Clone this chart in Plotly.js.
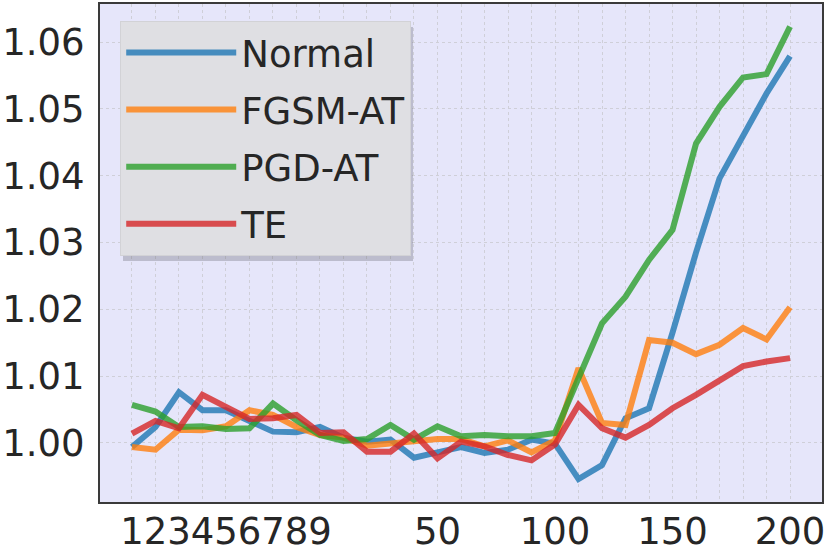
<!DOCTYPE html>
<html>
<head>
<meta charset="utf-8">
<script src="https://cdn.plot.ly/plotly-3.0.1.min.js"></script>
<style>
  html, body { margin: 0; padding: 0; background: #fff; }
  #chart { width: 830px; height: 554px; }
</style>
</head>
<body>
<div id="chart"></div>
<script>
// x categories: 1..9, then 10..200 in steps of 10
var epochs = ['1','2','3','4','5','6','7','8','9',
  '10','20','30','40','50','60','70','80','90','100',
  '110','120','130','140','150','160','170','180','190','200'];
var shownTicks = ['1','2','3','4','5','6','7','8','9','50','100','150','200'];
var yTicks = [1.00, 1.01, 1.02, 1.03, 1.04, 1.05, 1.06];

var normal = [0.9994, 1.0024, 1.0076, 1.0049, 1.0049, 1.0034, 1.0017, 1.0016, 1.0024, 1.0008,
  1.0002, 1.0005, 0.9978, 0.9986, 0.9994, 0.9985, 0.9990, 1.0005, 0.9999, 0.9946,
  0.9967, 1.0037, 1.0052, 1.0165, 1.0285, 1.0396, 1.0458, 1.0523, 1.0579];
var fgsmAT = [0.9994, 0.9990, 1.0020, 1.0019, 1.0025, 1.0049, 1.0042, 1.0024, 1.0012, 1.0008,
  0.9996, 1.0000, 1.0004, 1.0006, 1.0006, 0.9995, 1.0004, 0.9986, 1.0004, 1.0112,
  1.0030, 1.0027, 1.0154, 1.0150, 1.0133, 1.0147, 1.0172, 1.0155, 1.0203];
var pgdAT = [1.0057, 1.0047, 1.0024, 1.0025, 1.0021, 1.0022, 1.0059, 1.0034, 1.0012, 1.0003,
  1.0006, 1.0027, 1.0005, 1.0025, 1.0010, 1.0012, 1.0010, 1.0010, 1.0015, 1.0097,
  1.0179, 1.0219, 1.0274, 1.0319, 1.0448, 1.0503, 1.0547, 1.0552, 1.0623];
var te = [1.0014, 1.0033, 1.0022, 1.0072, 1.0054, 1.0036, 1.0037, 1.0042, 1.0015, 1.0016,
  0.9987, 0.9987, 1.0014, 0.9977, 1.0002, 0.9995, 0.9982, 0.9974, 0.9998, 1.0057,
  1.0022, 1.0008, 1.0027, 1.0052, 1.0072, 1.0094, 1.0115, 1.0122, 1.0127];

var names = ['Normal', 'FGSM-AT', 'PGD-AT', 'TE'];
var series = [normal, fgsmAT, pgdAT, te];
var colors = ['#1f77b4', '#ff7f0e', '#2ca02c', '#d62728'];

var traces = series.map(function(s, i) {
  return {
    x: epochs,
    y: s,
    name: names[i],
    legendgroup: 'g' + i,
    type: 'scatter',
    mode: 'lines',
    opacity: 0.8,
    line: {color: colors[i], width: 6}
  };
});

var tickFont = {family: 'DejaVu Sans', size: 37, color: '#262626'};

var layout = {
  width: 830,
  height: 554,
  margin: {l: 100, r: 8, t: 4, b: 52},
  paper_bgcolor: '#ffffff',
  plot_bgcolor: '#e6e6fa',
  font: tickFont,
  showlegend: true,
  legend: {
    x: 0.028, y: 0.966, xanchor: 'left', yanchor: 'top',
    bgcolor: 'rgb(223,223,227)',
    bordercolor: '#d2d2d6', borderwidth: 1,
    font: {family: 'DejaVu Sans', size: 37, color: '#262626'},
    itemwidth: 110,
    traceorder: 'grouped',
    tracegroupgap: 6
  },
  // thin drop shadow under the legend box
  shapes: [{
    type: 'rect', xref: 'paper', yref: 'paper', layer: 'above',
    x0: 0.0319, x1: 0.4335, y0: 0.4839, y1: 0.9538,
    fillcolor: 'rgba(110,110,120,0.35)', line: {width: 0}
  }],
  xaxis: {
    type: 'category',
    range: [-1.36, 29.36],
    tickvals: epochs,
    ticktext: epochs.map(function(e) { return shownTicks.indexOf(e) >= 0 ? e : ''; }),
    tickangle: 0,
    showgrid: true, gridcolor: '#cfcfd8', griddash: 'dot', gridwidth: 1,
    ticks: '', ticklabelstandoff: -4,
    showline: true, linecolor: '#3a3a3a', linewidth: 2, mirror: true,
    zeroline: false, tickfont: tickFont
  },
  yaxis: {
    range: [0.99117, 1.06569],
    tickvals: yTicks,
    ticktext: yTicks.map(function(v) { return v.toFixed(2); }),
    showgrid: true, gridcolor: '#cfcfd8', griddash: 'dot', gridwidth: 1,
    ticks: 'outside', ticklen: 6, tickcolor: 'rgba(0,0,0,0)',
    showline: true, linecolor: '#3a3a3a', linewidth: 2, mirror: true,
    zeroline: false, tickfont: tickFont
  }
};

Plotly.newPlot('chart', traces, layout, {displayModeBar: false});
</script>
</body>
</html>
